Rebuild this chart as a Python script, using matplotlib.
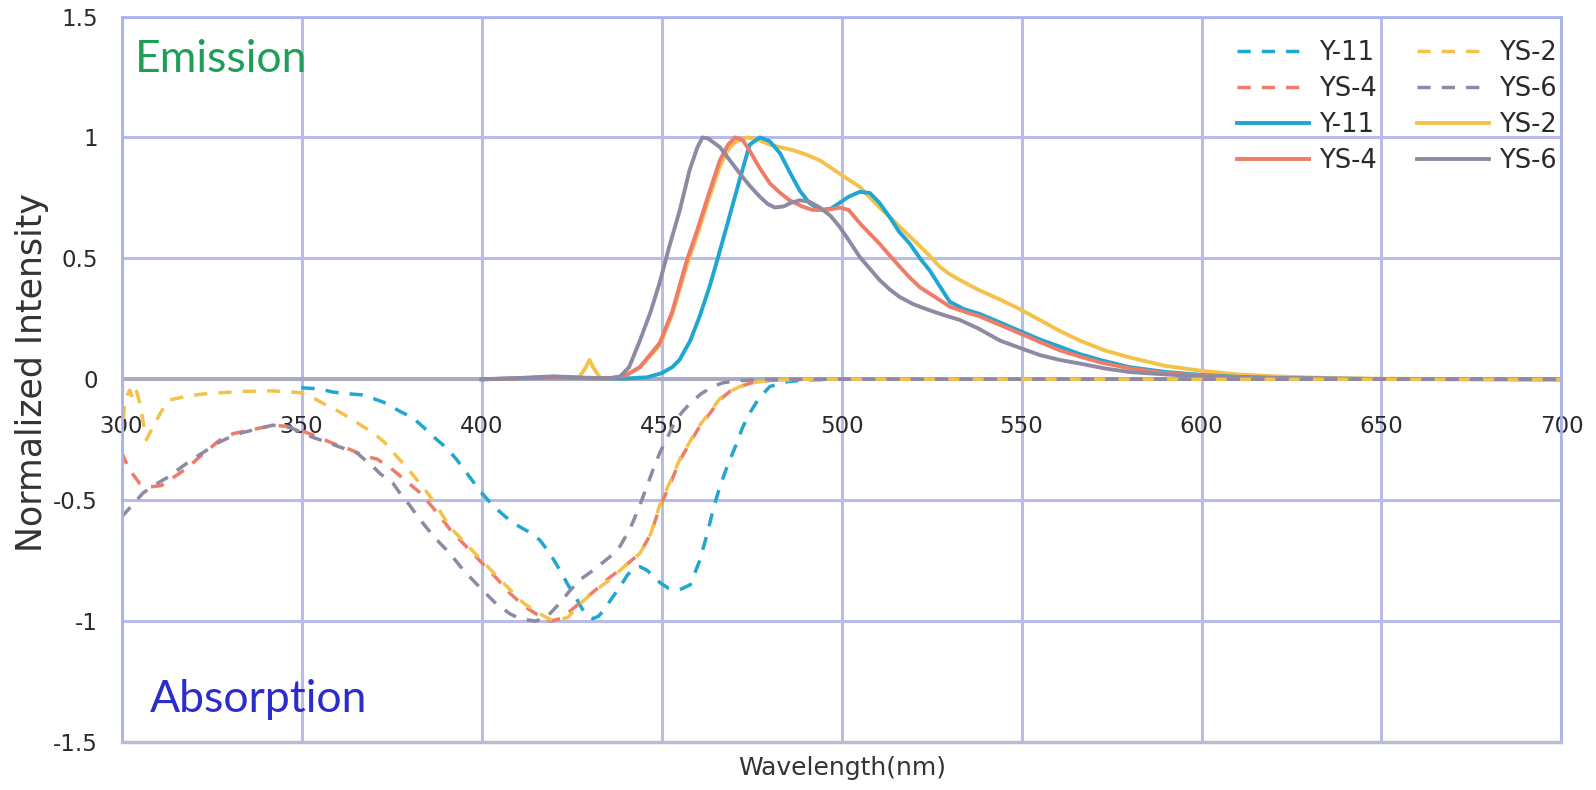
import matplotlib
matplotlib.use("Agg")
import matplotlib.pyplot as plt
import matplotlib.font_manager as fm

# ---------------- data ----------------
# emission spectra (solid lines)
y11_em_wl = [400, 410, 420, 430, 440, 446, 450, 453, 455, 458,
             460.6, 463.5, 466.2, 469, 471.8, 474.5, 477.3, 480, 482.9, 485.5,
             488.4, 491, 494, 497, 499.5, 502, 505.1, 507.9, 510.5, 513.4,
             516, 519, 521.8, 524.5, 527.5, 530.1, 534, 538.4, 544, 549.5,
             555, 560.6, 566, 571.8, 580, 590, 600, 610, 620, 635,
             650, 700]
y11_em = [0, 0.003, 0.008, 0.004, 0.003, 0.008, 0.025, 0.05, 0.08, 0.16,
          0.26, 0.39, 0.53, 0.68, 0.83, 0.97, 1.0, 0.985, 0.935, 0.86,
          0.78, 0.73, 0.70, 0.705, 0.73, 0.755, 0.775, 0.77, 0.73, 0.67,
          0.61, 0.56, 0.50, 0.45, 0.38, 0.32, 0.29, 0.27, 0.235, 0.20,
          0.165, 0.135, 0.105, 0.08, 0.05, 0.03, 0.018, 0.01, 0.006, 0.003,
          0.001, 0]

ys4_em_wl = [400, 410, 420, 430, 436, 440, 444, 449.5, 453, 457,
             460, 463, 466.2, 468.5, 470.4, 472.5, 474.5, 477, 480.1, 483,
             485.6, 489, 492, 496, 499.5, 502, 505.1, 508, 510.6, 513.5,
             516.2, 519, 521.8, 526, 530.1, 534, 538.4, 544, 549.5, 555,
             560.6, 566, 571.8, 580.1, 590, 600, 610, 620, 635, 650,
             700]
ys4_em = [0, 0.003, 0.01, 0.004, 0.004, 0.015, 0.05, 0.15, 0.28, 0.49,
          0.62, 0.76, 0.905, 0.97, 1.0, 0.99, 0.945, 0.88, 0.81, 0.77,
          0.74, 0.715, 0.70, 0.70, 0.71, 0.70, 0.645, 0.60, 0.56, 0.51,
          0.465, 0.42, 0.38, 0.34, 0.30, 0.28, 0.26, 0.225, 0.19, 0.155,
          0.12, 0.095, 0.07, 0.045, 0.025, 0.015, 0.008, 0.004, 0.002, 0.001,
          0]

ys2_em_wl = [400, 410, 420, 427, 429, 430, 431, 433, 436, 440,
             444, 449.5, 453, 457, 460, 463, 466.2, 468.5, 470.4, 473.7,
             477, 480, 482.9, 487, 490, 494, 497, 499.5, 502, 505.1,
             508, 510.6, 513.5, 516.2, 519, 521.8, 524.5, 527.3, 530, 532.9,
             538, 544, 549.5, 555.1, 560.6, 566.2, 573, 580.1, 590, 600,
             610, 620, 635, 650, 700]
ys2_em = [0, 0.003, 0.01, 0.005, 0.05, 0.08, 0.05, 0.005, 0.004, 0.015,
          0.05, 0.14, 0.27, 0.47, 0.60, 0.74, 0.88, 0.95, 0.98, 1.0,
          0.99, 0.97, 0.96, 0.945, 0.93, 0.905, 0.875, 0.85, 0.825, 0.795,
          0.75, 0.71, 0.67, 0.63, 0.59, 0.55, 0.51, 0.465, 0.435, 0.41,
          0.37, 0.33, 0.29, 0.245, 0.20, 0.16, 0.12, 0.09, 0.055, 0.035,
          0.02, 0.012, 0.005, 0.002, 0]

ys6_em_wl = [400, 410, 420, 430, 435, 438.4, 441, 444, 447, 449.5,
             452, 455.1, 457.8, 460, 461.4, 463, 466.2, 469, 471.8, 474.5,
             477.3, 479.5, 481.5, 484, 486, 488.4, 491, 494, 497, 499.5,
             502, 505.1, 508, 510.6, 513.5, 516.2, 520, 524.5, 528.5, 532.9,
             538, 544, 549.5, 555.1, 560.6, 566.2, 573, 580, 590, 600,
             610, 620, 640, 700]
ys6_em = [0, 0.005, 0.012, 0.006, 0.004, 0.01, 0.05, 0.16, 0.28, 0.40,
          0.54, 0.70, 0.865, 0.96, 1.0, 0.995, 0.96, 0.905, 0.85, 0.80,
          0.755, 0.725, 0.71, 0.715, 0.73, 0.74, 0.735, 0.71, 0.675, 0.63,
          0.575, 0.505, 0.455, 0.41, 0.37, 0.34, 0.31, 0.285, 0.265, 0.245,
          0.21, 0.16, 0.13, 0.10, 0.08, 0.065, 0.045, 0.03, 0.02, 0.012,
          0.007, 0.004, 0.001, 0]

# absorption spectra (dashed lines, plotted negative)
y11_abs_wl = [350, 355, 358.7, 363, 367, 370, 373.7, 377, 381, 384,
              387.6, 390, 393, 396, 399.5, 403, 406, 408, 410.6, 413,
              416.2, 419, 421.8, 424, 426.5, 428, 429.5, 431, 432.5, 434,
              436, 438.4, 440.5, 442.5, 444, 446, 449.5, 452, 455.1, 458,
              460.6, 462.5, 464.5, 466.2, 468.5, 470.9, 472.5, 474.5, 477, 480.1,
              485, 490, 500, 550, 600, 650, 700]
y11_abs = [-0.035, -0.04, -0.053, -0.06, -0.065, -0.08, -0.10, -0.13, -0.16, -0.2,
           -0.25, -0.28, -0.33, -0.39, -0.46, -0.52, -0.56, -0.585, -0.61, -0.63,
           -0.665, -0.72, -0.79, -0.85, -0.91, -0.95, -0.98, -0.99, -0.98, -0.955,
           -0.91, -0.86, -0.81, -0.78, -0.775, -0.79, -0.84, -0.865, -0.87, -0.85,
           -0.75, -0.65, -0.53, -0.445, -0.35, -0.265, -0.2, -0.14, -0.08, -0.03,
           -0.01, -0.003, 0, 0, 0, 0, 0]

ys4_abs_wl = [300, 302, 305, 308, 311, 313.5, 318, 321.8, 325, 327.4,
              331, 335.7, 339, 342, 346, 349.5, 354, 358.7, 363.4, 368.1,
              371, 375.4, 379, 383, 387.6, 391.2, 395, 399.5, 404, 407.9,
              412, 416.2, 419, 422, 424.5, 427.3, 431, 435.6, 440, 444,
              447, 449.5, 452.5, 455.1, 458, 460.6, 463.5, 466.2, 469, 471.8,
              475, 480, 490, 550, 600, 650, 700]
ys4_abs = [-0.30, -0.37, -0.43, -0.445, -0.44, -0.415, -0.37, -0.32, -0.28, -0.25,
           -0.225, -0.21, -0.2, -0.19, -0.195, -0.21, -0.235, -0.265, -0.29, -0.32,
           -0.33, -0.375, -0.42, -0.47, -0.55, -0.62, -0.68, -0.75, -0.82, -0.885,
           -0.94, -0.98, -1.0, -0.99, -0.96, -0.925, -0.88, -0.82, -0.77, -0.72,
           -0.64, -0.53, -0.43, -0.335, -0.26, -0.195, -0.14, -0.085, -0.05, -0.03,
           -0.015, -0.005, 0, 0, 0, 0, 0]

ys2_abs_wl = [300, 300.9, 302.3, 303.2, 304.2, 305.1, 306.9, 308.8, 311.2, 313.5,
              318.2, 322, 326.5, 334, 342, 349.5, 353, 356, 360, 363.4,
              366.5, 369.8, 373, 376.5, 379, 382, 385, 387.6, 391.2, 395,
              399.5, 404, 407.9, 412, 416.2, 420, 424, 427.3, 431, 435.6,
              440, 444, 447, 449.5, 452.5, 455.1, 458, 460.6, 463.5, 466.2,
              469, 471.8, 475, 480, 490, 550, 600, 650, 700]
ys2_abs = [-0.265, -0.085, -0.045, -0.085, -0.05, -0.10, -0.25, -0.195, -0.13, -0.085,
           -0.07, -0.062, -0.057, -0.05, -0.048, -0.055, -0.075, -0.10, -0.13, -0.16,
           -0.19, -0.22, -0.26, -0.32, -0.36, -0.415, -0.47, -0.525, -0.61, -0.67,
           -0.74, -0.81, -0.87, -0.93, -0.97, -1.0, -0.985, -0.93, -0.88, -0.83,
           -0.77, -0.72, -0.64, -0.52, -0.42, -0.33, -0.255, -0.19, -0.135, -0.08,
           -0.05, -0.03, -0.015, -0.005, 0, 0, 0, 0, 0]

ys6_abs_wl = [300, 303, 306, 310, 313.5, 316.5, 319.8, 323, 326.5, 330,
              333.7, 338, 342, 347, 353.1, 357, 360.6, 365.4, 369.8, 371.8,
              375.4, 377.3, 380, 382.9, 387, 391.2, 395, 399.5, 403.5, 407.9,
              410, 412.5, 415, 418, 421.8, 424.5, 427.3, 431, 435.6, 438.5,
              441.2, 443.5, 445.9, 447.5, 449.5, 451.5, 453.1, 455.5, 457.9, 461,
              464.3, 467, 470, 478, 490, 550, 600, 650, 700]
ys6_abs = [-0.57, -0.52, -0.47, -0.43, -0.40, -0.365, -0.33, -0.30, -0.265, -0.24,
           -0.22, -0.205, -0.19, -0.2, -0.24, -0.26, -0.28, -0.305, -0.36, -0.39,
           -0.43, -0.47, -0.52, -0.58, -0.655, -0.72, -0.79, -0.86, -0.92, -0.97,
           -0.985, -0.995, -1.0, -0.985, -0.925, -0.875, -0.83, -0.79, -0.735, -0.69,
           -0.62, -0.54, -0.445, -0.38, -0.305, -0.245, -0.195, -0.14, -0.10, -0.06,
           -0.03, -0.015, -0.008, 0, 0, 0, 0, 0, 0]

x_ticks = [300, 350, 400, 450, 500, 550, 600, 650, 700]
y_ticks = [-1.5, -1, -0.5, 0, 0.5, 1, 1.5]
y_tick_labels = ["-1.5", "-1", "-0.5", "0", "0.5", "1", "1.5"]

# ---------------- style ----------------
c_y11 = "#1fa6d2"
c_ys4 = "#ef7c69"
c_ys2 = "#f4c24b"
c_ys6 = "#8e8aa3"
grid_c = "#b7bcec"

try:
    fm.findfont("Lato", fallback_to_default=False)
    big_font, big_fs = "Lato", 32
except ValueError:
    big_font, big_fs = "DejaVu Sans", 27
leg_fs = 18.5

fig = plt.figure(figsize=(15.96, 7.9), dpi=100)
ax = fig.add_axes([121.5/1596, 1 - 742/790, 1440/1596, 725.5/790])
ax.set_xlim(300, 700)
ax.set_ylim(-1.5, 1.5)

ax.set_axisbelow(True)
ax.grid(True, color=grid_c, lw=2.2)
ax.axhline(0, color="#a9aabf", lw=2.8, zorder=1)
ax.axhline(-1.5, color="#b9bdd0", lw=2.5, clip_on=False, zorder=3)

dash = (3.8, 3.2)
ax.plot(ys2_em_wl, ys2_em, color=c_ys2, lw=2.8, label="YS-2", zorder=2)
ax.plot(y11_em_wl, y11_em, color=c_y11, lw=2.8, label="Y-11", zorder=2)
ax.plot(ys4_em_wl, ys4_em, color=c_ys4, lw=2.8, label="YS-4", zorder=2)
ax.plot(ys6_em_wl, ys6_em, color=c_ys6, lw=2.8, label="YS-6", zorder=2)
# dashed absorption lines on top so their dashes show along the zero line
ax.plot(y11_abs_wl, y11_abs, color=c_y11, lw=2.5, dashes=dash, label="Y-11", zorder=2.5)
ax.plot(ys4_abs_wl, ys4_abs, color=c_ys4, lw=2.5, dashes=dash, label="YS-4", zorder=2.5)
ax.plot(ys2_abs_wl, ys2_abs, color=c_ys2, lw=2.5, dashes=dash, label="YS-2", zorder=2.5)
ax.plot(ys6_abs_wl, ys6_abs, color=c_ys6, lw=2.5, dashes=dash, label="YS-6", zorder=2.5)

ax.set_xticks(x_ticks)
ax.set_xticklabels([str(v) for v in x_ticks])
ax.set_yticks(y_ticks)
ax.set_yticklabels(y_tick_labels)
ax.spines["bottom"].set_position(("data", 0))
ax.spines["bottom"].set_visible(False)
for s in ["top", "left", "right"]:
    ax.spines[s].set_color("#aab2ee")
    ax.spines[s].set_linewidth(2)
ax.tick_params(axis="x", length=0, pad=26, labelsize=16.5, labelcolor="#2a2a2a")
ax.tick_params(axis="y", length=0, pad=17, labelsize=16.5, labelcolor="#2a2a2a")

ax.text(303.8, 1.27, "Emission", color="#1f9e58", fontsize=big_fs,
        family=big_font, va="baseline", ha="left")
ax.text(307.9, -1.376, "Absorption", color="#2c2ccc", fontsize=big_fs,
        family=big_font, va="baseline", ha="left")

fig.text(32/1596, 1 - 372/790, "Normalized Intensity", rotation=90,
         ha="center", va="center", fontsize=25, color="#333333")
fig.text(842/1596, 1 - 768/790, "Wavelength(nm)", ha="center", va="center",
         fontsize=18, color="#333333")

# legend: dashed entries first in each column, as in the original
lines = ax.get_lines()[2:]
hd = {l.get_label() + ("d" if l.get_linestyle() != "-" else "s"): l for l in lines}
order = ["Y-11d", "YS-4d", "Y-11s", "YS-4s", "YS-2d", "YS-6d", "YS-2s", "YS-6s"]
em = leg_fs * 100 / 72
leg = ax.legend([hd[k] for k in order], [k[:-1] for k in order], ncol=2,
                loc="upper left", bbox_to_anchor=(1237/1596, 1 - 39.5/790),
                bbox_transform=fig.transFigure, frameon=False, borderpad=0,
                borderaxespad=0, handlelength=72/em, handletextpad=10/em,
                columnspacing=40/em, labelspacing=0.39, fontsize=leg_fs)
for t in leg.get_texts():
    t.set_color("#2a2a2a")

fig.savefig("out.png", dpi=100)
